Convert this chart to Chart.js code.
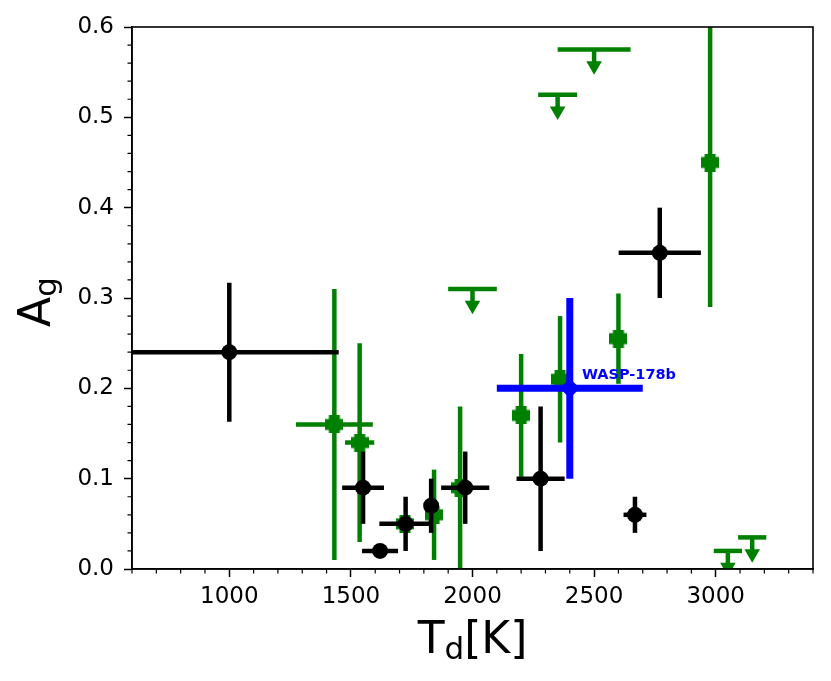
<!DOCTYPE html>
<html>
<head>
<meta charset="utf-8">
<script src="https://cdn.jsdelivr.net/npm/chart.js@4.4.0/dist/chart.umd.min.js"></script>
<style>
  html, body { margin: 0; padding: 0; background: #fff; }
  #wrap { width: 831px; height: 681px; position: relative; }
</style>
</head>
<body>
<div id="wrap"><canvas id="myChart"></canvas></div>
<script>
// black points: Td [K], Ag, errors
const blackTd = [1000, 1550, 1620, 1725, 1830, 1970, 2280, 2668, 2770];
const blackAg = [0.24, 0.09, 0.02, 0.05, 0.07, 0.09, 0.10, 0.06, 0.35];
const blackTdErr = [450, 86, 74, 108, 0, 99, 99, 47, 169];
const blackAgErr = [0.077, 0.04, 0, 0.03, 0.03, 0.04, 0.08, 0.02, 0.05];

// green points
const greenTd = [1432, 1536, 1722, 1842, 1949, 2200, 2360, 2600, 2977];
const greenAg = [0.16, 0.14, 0.05, 0.06, 0.09, 0.17, 0.21, 0.255, 0.45];
const greenTdErr = [158, 60, 0, 0, 0, 0, 0, 0, 0];
const greenAgErr = [0.15, 0.11, 0, 0.05, 0.09, 0.068, 0.07, 0.05, 0.16];

// green upper limits
const limitTd = [2000, 2350, 2500, 3050, 3150];
const limitAg = [0.31, 0.525, 0.575, 0.02, 0.035];
const limitTdErr = [100, 80, 150, 58, 58];
const limitArrow = 0.018;

// WASP-178b
const waspTd = [2400];
const waspAg = [0.20];
const waspTdErr = [300];
const waspAgErr = [0.10];
const waspLabel = 'WASP-178b';
const waspLabelTd = 2450;
const waspLabelAg = 0.21;

const xTicks = [1000, 1500, 2000, 2500, 3000];
const yTicks = [0, 0.1, 0.2, 0.3, 0.4, 0.5, 0.6];

const GREEN = '#008000';
const BLUE = '#0000ff';
const FONT = 'DejaVu Sans';

function points(xs, ys) {
  return xs.map((x, i) => ({ x: x, y: ys[i] }));
}

function seg(data, color, width, order) {
  return {
    data: data,
    showLine: true,
    borderColor: color,
    borderWidth: width,
    pointRadius: 0,
    fill: false,
    clip: 0,
    order: order,
  };
}

// error bars as two-point line datasets
function errorBars(xs, ys, xerr, yerr, color, width, order) {
  const out = [];
  xs.forEach((x, i) => {
    if (xerr[i] > 0) {
      out.push(seg([{ x: x - xerr[i], y: ys[i] }, { x: x + xerr[i], y: ys[i] }], color, width, order));
    }
    if (yerr[i] > 0) {
      out.push(seg([{ x: x, y: ys[i] - yerr[i] }, { x: x, y: ys[i] + yerr[i] }], color, width, order));
    }
  });
  return out;
}

function limitBars() {
  const out = [];
  limitTd.forEach((x, i) => {
    out.push(seg([{ x: x - limitTdErr[i], y: limitAg[i] }, { x: x + limitTdErr[i], y: limitAg[i] }], GREEN, 4.5, 5));
    out.push(seg([{ x: x, y: limitAg[i] }, { x: x, y: limitAg[i] - limitArrow }], GREEN, 4.5, 5));
  });
  return out;
}

// filled plus marker
function plusMarker(size, arm, color) {
  const c = document.createElement('canvas');
  c.width = size;
  c.height = size;
  const g = c.getContext('2d');
  g.fillStyle = color;
  const o = (size - arm) / 2;
  g.fillRect(o, 0, arm, size);
  g.fillRect(0, o, size, arm);
  return c;
}

function drawParts(ctx, parts, startX, baseY) {
  let x = startX;
  parts.forEach((p) => {
    ctx.font = p.size + 'px "' + FONT + '"';
    ctx.fillText(p.t, x, baseY + p.dy);
    x += ctx.measureText(p.t).width;
  });
}

function partsWidth(ctx, parts) {
  let w = 0;
  parts.forEach((p) => {
    ctx.font = p.size + 'px "' + FONT + '"';
    w += ctx.measureText(p.t).width;
  });
  return w;
}

const decorations = {
  id: 'decorations',
  afterDatasetsDraw(chart) {
    const ctx = chart.ctx;
    const xs = chart.scales.x;
    const ys = chart.scales.y;
    ctx.save();
    ctx.fillStyle = BLUE;
    ctx.font = 'bold 14.5px "' + FONT + '"';
    ctx.textAlign = 'left';
    ctx.textBaseline = 'alphabetic';
    ctx.fillText(waspLabel, xs.getPixelForValue(waspLabelTd), ys.getPixelForValue(waspLabelAg));
    ctx.restore();
  },
  afterDraw(chart) {
    const ctx = chart.ctx;
    const a = chart.chartArea;
    const xs = chart.scales.x;
    const ys = chart.scales.y;
    ctx.save();
    ctx.strokeStyle = '#000';
    // minor ticks
    ctx.lineWidth = 1.2;
    ctx.beginPath();
    for (let v = 600; v <= 3400; v += 100) {
      if (v % 500 === 0) continue;
      const px = xs.getPixelForValue(v);
      ctx.moveTo(px, a.bottom);
      ctx.lineTo(px, a.bottom + 4.5);
    }
    for (let i = 0; i <= 30; i++) {
      if (i % 5 === 0) continue;
      const py = ys.getPixelForValue(i * 0.02);
      ctx.moveTo(a.left, py);
      ctx.lineTo(a.left - 4.5, py);
    }
    ctx.stroke();
    // frame
    ctx.lineWidth = 1.6;
    ctx.strokeRect(a.left, a.top, a.right - a.left, a.bottom - a.top);

    // axis titles with subscripts
    ctx.fillStyle = '#000';
    ctx.textAlign = 'left';
    ctx.textBaseline = 'alphabetic';
    const xParts = [
      { t: 'T', size: 44, dy: 0 },
      { t: 'd', size: 31, dy: 6 },
      { t: '[K]', size: 44, dy: 0 },
    ];
    const xw = partsWidth(ctx, xParts);
    drawParts(ctx, xParts, (a.left + a.right) / 2 - xw / 2, 652.7);

    const yParts = [
      { t: 'A', size: 44, dy: 0 },
      { t: 'g', size: 31, dy: 6 },
    ];
    const yw = partsWidth(ctx, yParts);
    ctx.translate(50, 302);
    ctx.rotate(-Math.PI / 2);
    drawParts(ctx, yParts, -yw / 2, 0);
    ctx.restore();
  },
};

const datasets = [
  {
    data: points(waspTd, waspAg),
    pointStyle: 'rectRot',
    pointRadius: 10,
    backgroundColor: BLUE,
    borderColor: BLUE,
    borderWidth: 0,
    clip: 0,
    order: 0,
  },
  ...errorBars(waspTd, waspAg, waspTdErr, waspAgErr, BLUE, 7, 1),
  {
    data: points(blackTd, blackAg),
    pointStyle: 'circle',
    pointRadius: 8,
    backgroundColor: '#000',
    borderColor: '#000',
    borderWidth: 0,
    clip: 0,
    order: 2,
  },
  ...errorBars(blackTd, blackAg, blackTdErr, blackAgErr, '#000', 4.5, 3),
  {
    data: points(greenTd, greenAg),
    pointStyle: plusMarker(18, 11, GREEN),
    pointRadius: 9,
    backgroundColor: GREEN,
    borderColor: GREEN,
    clip: 0,
    order: 4,
  },
  {
    data: limitTd.map((x, i) => ({ x: x, y: limitAg[i] - limitArrow })),
    pointStyle: 'triangle',
    rotation: 180,
    pointRadius: 9,
    backgroundColor: GREEN,
    borderColor: GREEN,
    borderWidth: 0,
    clip: 0,
    order: 4,
  },
  ...errorBars(greenTd, greenAg, greenTdErr, greenAgErr, GREEN, 4.5, 5),
  ...limitBars(),
];

const config = {
  type: 'scatter',
  data: { datasets: datasets },
  options: {
    responsive: true,
    maintainAspectRatio: false,
    animation: false,
    events: [],
    layout: { padding: { top: 27, right: 18, left: 0, bottom: 0 } },
    plugins: {
      legend: { display: false },
      tooltip: { enabled: false },
    },
    scales: {
      x: {
        type: 'linear',
        min: 600,
        max: 3400,
        afterBuildTicks: (s) => {
          s.ticks = xTicks.map((v) => ({ value: v }));
        },
        afterFit: (s) => {
          s.height = 112;
        },
        grid: { drawOnChartArea: false, tickLength: 8, tickWidth: 1.5, color: '#000', tickColor: '#000' },
        border: { display: true, color: '#000', width: 1.6 },
        ticks: {
          color: '#000',
          font: { family: FONT, size: 23 },
          padding: 6,
          maxRotation: 0,
          autoSkip: false,
          callback: (v) => String(v),
        },
      },
      y: {
        type: 'linear',
        min: 0,
        max: 0.6,
        afterBuildTicks: (s) => {
          s.ticks = yTicks.map((v) => ({ value: v }));
        },
        afterFit: (s) => {
          s.width = 132;
        },
        grid: { drawOnChartArea: false, tickLength: 8, tickWidth: 1.5, color: '#000', tickColor: '#000' },
        border: { display: true, color: '#000', width: 1.6 },
        ticks: {
          color: '#000',
          font: { family: FONT, size: 23 },
          padding: 10,
          autoSkip: false,
          callback: (v) => v.toFixed(1),
        },
      },
    },
  },
  plugins: [decorations],
};

const myChart = new Chart(document.getElementById('myChart'), config);
</script>
</body>
</html>
